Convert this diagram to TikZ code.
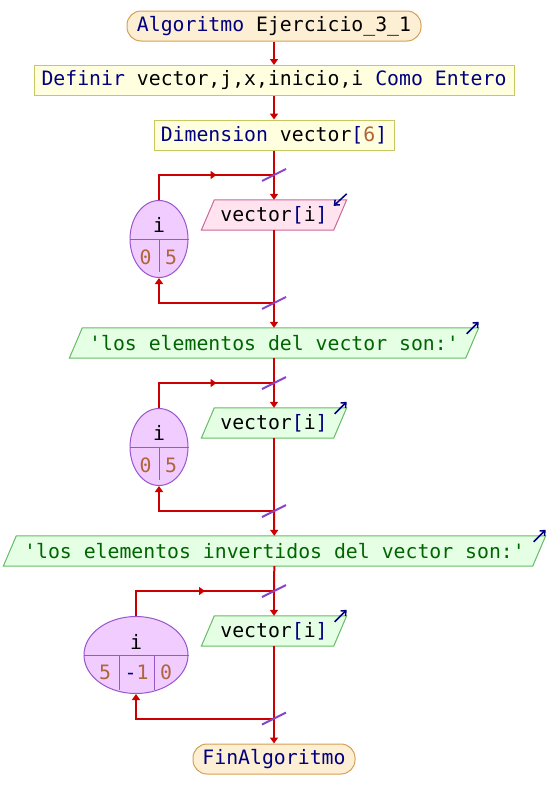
\documentclass[tikz,border=0pt]{standalone}
\usepackage{fontspec}
\setmonofont{DejaVu Sans Mono}
\usetikzlibrary{shapes.geometric,arrows.meta,backgrounds,calc}
\definecolor{kwc}{HTML}{000080}
\definecolor{numc}{HTML}{B0643A}
\definecolor{strc}{HTML}{006400}
\definecolor{termfill}{HTML}{FDEFD3}
\definecolor{termline}{HTML}{D4A055}
\definecolor{procfill}{HTML}{FFFFE0}
\definecolor{procline}{HTML}{C8C860}
\definecolor{infill}{HTML}{FFE4F0}
\definecolor{inline}{HTML}{CC6699}
\definecolor{outfill}{HTML}{E4FFE4}
\definecolor{outline}{HTML}{66BB66}
\definecolor{ellfill}{HTML}{F0CCFF}
\definecolor{ellline}{HTML}{9955CC}
\definecolor{slashc}{HTML}{8844CC}
\definecolor{flowc}{HTML}{CC0000}
\newcommand\kw[1]{\textcolor{kwc}{#1}}
\newcommand\nm[1]{\textcolor{numc}{#1}}
\newcommand\paral[3]{\begin{scope}[on background layer]
  \filldraw[fill=#2,draw=#3,line width=1pt] ($(#1.south west)+(-6.5,0)$) -- ($(#1.north west)+(6.5,0)$) -- ($(#1.north east)+(6.5,0)$) -- ($(#1.south east)+(-6.5,0)$) -- cycle;
  \end{scope}}
\tikzset{
  every node/.style={font=\ttfamily\fontsize{19.8}{22}\selectfont},
  term/.style={rectangle, rounded corners=14pt, draw=termline, fill=termfill, line width=1pt, minimum height=30, inner sep=0},
  procbox/.style={rectangle, draw=procline, fill=procfill, line width=1pt, minimum height=30, inner sep=0},
  iobox/.style={rectangle, minimum height=30, inner sep=0},
  loopell/.style={ellipse, draw=ellline, fill=ellfill, line width=1pt, inner sep=0, minimum height=77},
  divider/.style={draw=ellline, line width=1pt},
  flow/.style={draw=flowc, line width=2pt, -{Triangle[length=6pt,width=8pt]}},
  plain/.style={draw=flowc, line width=2pt},
  slash/.style={draw=slashc, line width=2pt},
  ioarrow/.style={draw=kwc, line width=1.5pt, -{Straight Barb[length=4pt,width=7pt]}},
  lbl/.style={inner sep=0}
}
\begin{document}
\begin{tikzpicture}[x=1pt,y=-1pt]
\useasboundingbox (0,0) rectangle (548,809);
% nodes
\node[term, minimum width=294] (start) at (274,26) {\kw{Algoritmo} Ejercicio\_3\_1};
\node[procbox, minimum width=480] (def) at (274,80.5) {\kw{Definir} vector,j,x,inicio,i \kw{Como Entero}};
\node[procbox, minimum width=240] (dim) at (274,135) {\kw{Dimension} vector\kw{[}\nm{6}\kw{]}};
% loop 1
\coordinate (l1t) at (274,175);
\node[iobox, minimum width=132] (in1) at (274,215) {vector\kw{[}i\kw{]}};
\coordinate (l1b) at (274,303);
\node[loopell, minimum width=58] (e1) at (159,239) {};
\node[lbl] (e1v) at (159,225) {i};
\node[lbl] (e1a) at (145.5,257) {\nm{0}};
\node[lbl] (e1b) at (171,257) {\nm{5}};
\node[iobox, minimum width=396] (o1) at (274,343) {\textcolor{strc}{'los elementos del vector son:'}};
% loop 2
\coordinate (l2t) at (274,383);
\node[iobox, minimum width=132] (in2) at (274,423) {vector\kw{[}i\kw{]}};
\coordinate (l2b) at (274,511);
\node[loopell, minimum width=58] (e2) at (159,447) {};
\node[lbl] (e2v) at (159,433) {i};
\node[lbl] (e2a) at (145.5,465) {\nm{0}};
\node[lbl] (e2b) at (171,465) {\nm{5}};
\node[iobox, minimum width=529] (o2) at (274.5,551) {\textcolor{strc}{'los elementos invertidos del vector son:'}};
% loop 3
\coordinate (l3t) at (274,591);
\node[iobox, minimum width=132] (in3) at (274,631) {vector\kw{[}i\kw{]}};
\coordinate (l3b) at (274,718.5);
\node[loopell, minimum width=104] (e3) at (136,655) {};
\node[lbl] (e3v) at (136,642) {i};
\node[lbl] (e3a) at (105,672) {\nm{5}};
\node[lbl] (e3b) at (136.5,672) {\kw{-}\nm{1}};
\node[lbl] (e3c) at (166,672) {\nm{0}};
\node[term, minimum width=162] (end) at (274,759) {\kw{FinAlgoritmo}};
% parallelograms
\paral{in1}{infill}{inline}
\paral{o1}{outfill}{outline}
\paral{in2}{outfill}{outline}
\paral{o2}{outfill}{outline}
\paral{in3}{outfill}{outline}
% ellipse dividers
\draw[divider] (e1.west) -- (e1.east);
\draw[divider] (e1.center) -- ++(0,33);
\draw[divider] (e2.west) -- (e2.east);
\draw[divider] (e2.center) -- ++(0,33);
\draw[divider] (e3.west) -- (e3.east);
\draw[divider] ($(e3.center)+(-17,0)$) -- ++(0,35);
\draw[divider] ($(e3.center)+(18.5,0)$) -- ++(0,34.5);
% main flow
\draw[flow] (start) -- (def);
\draw[flow] (def) -- (dim);
\draw[plain] (dim) -- (l1t);
\draw[flow] (l1t) -- (in1);
\draw[plain] (in1) -- (l1b);
\draw[flow] (l1b) -- (o1);
\draw[plain] (o1) -- (l2t);
\draw[flow] (l2t) -- (in2);
\draw[plain] (in2) -- (l2b);
\draw[flow] (l2b) -- (o2);
\draw[plain] (o2) -- (l3t);
\draw[flow] (l3t) -- (in3);
\draw[plain] (in3) -- (l3b);
\draw[flow] (l3b) -- (end);
% loop backs
\draw[flow] (l1b) -| (e1.south);
\draw[plain] (e1.north) |- (l1t);
\draw[flow] (e1.north |- l1t) -- ($(e1.north |- l1t)!0.5!(l1t)$);
\draw[flow] (l2b) -| (e2.south);
\draw[plain] (e2.north) |- (l2t);
\draw[flow] (e2.north |- l2t) -- ($(e2.north |- l2t)!0.5!(l2t)$);
\draw[flow] (l3b) -| (e3.south);
\draw[plain] (e3.north) |- (l3t);
\draw[flow] (e3.north |- l3t) -- ($(e3.north |- l3t)!0.5!(l3t)$);
% slashes
\foreach \c in {l1t,l1b,l2t,l2b,l3t,l3b}
  \draw[slash] ($(\c)+(-12,6)$) -- ($(\c)+(12,-6)$);
% io arrows
\draw[ioarrow] ($(in1.north east)+(6.5,-6)$) -- ($(in1.north east)+(-6.5,6)$);
\draw[ioarrow] ($(o1.north east)+(-5.5,6)$) -- ($(o1.north east)+(6.5,-6)$);
\draw[ioarrow] ($(in2.north east)+(-5.5,6)$) -- ($(in2.north east)+(6.5,-6)$);
\draw[ioarrow] ($(o2.north east)+(-5.5,6)$) -- ($(o2.north east)+(6.5,-6)$);
\draw[ioarrow] ($(in3.north east)+(-5.5,6)$) -- ($(in3.north east)+(6.5,-6)$);
\end{tikzpicture}
\end{document}
